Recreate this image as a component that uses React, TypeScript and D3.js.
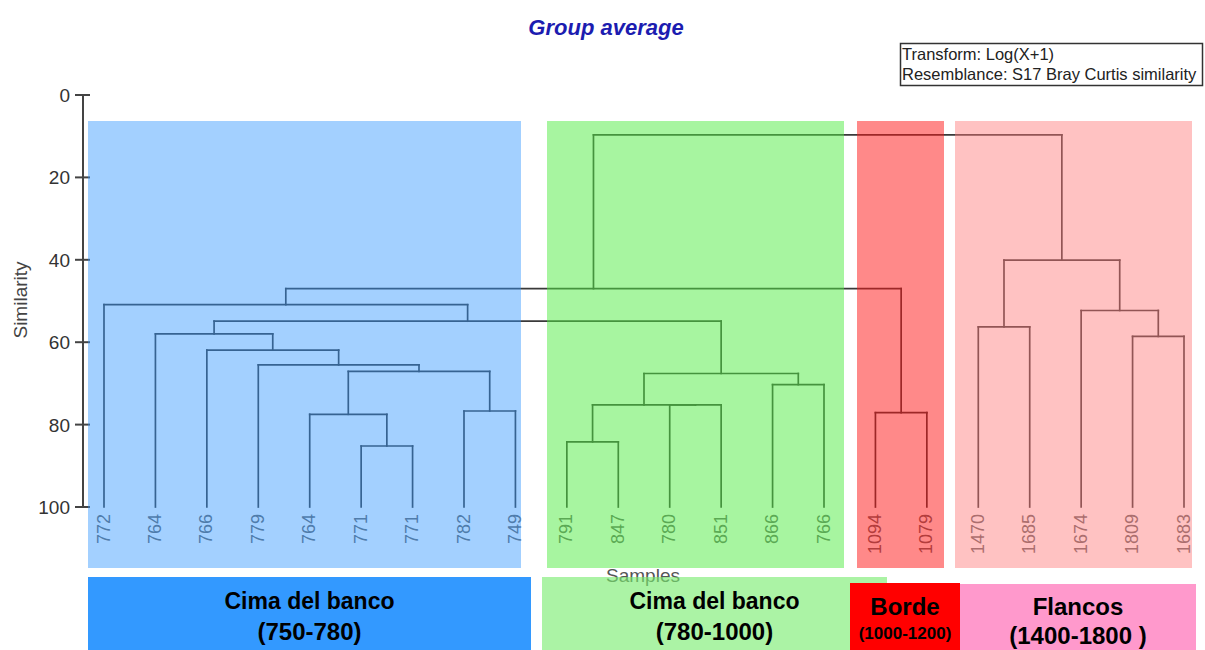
import React from "react";
import * as d3 from "d3";

// ---------- DATA ----------
const sampleLabels = [
  "772", "764", "766", "779", "764", "771", "771", "782", "749",
  "791", "847", "780", "851", "866", "766",
  "1094", "1079",
  "1470", "1685", "1674", "1809", "1683",
];
// linkage: node ids >= sampleLabels.length refer to earlier merges
const mergeA = [5, 4, 7, 23, 3, 2, 1, 9, 11, 29, 13, 31, 28, 0, 15, 35, 17, 20, 19, 38, 37];
const mergeB = [6, 22, 8, 24, 25, 26, 27, 10, 12, 30, 14, 32, 33, 34, 16, 36, 18, 21, 39, 40, 41];
const mergeSimilarity = [85.2, 77.5, 76.7, 67.1, 65.5, 61.9, 58.0, 84.2, 75.2, 75.2, 70.3, 67.6, 54.9, 50.9, 77.1, 47.0, 56.3, 58.6, 52.3, 40.1, 9.7];
const yTicks = [0, 20, 40, 60, 80, 100];

const groupTitles = ["Cima del banco", "Cima del banco", "Borde", "Flancos"];
const groupRanges = ["(750-780)", "(780-1000)", "(1000-1200)", "(1400-1800 )"];

// ---------- LAYOUT ----------
const W = 1205, H = 650;
const shadeBoxes = [
  { x0: 88, x1: 521, fill: "rgb(51,150,255)", op: 0.45 },
  { x0: 547, x1: 844, fill: "rgb(80,235,65)", op: 0.5 },
  { x0: 857, x1: 944, fill: "rgb(255,20,20)", op: 0.5 },
  { x0: 955, x1: 1192, fill: "rgb(255,120,120)", op: 0.45 },
];
const labelBoxes = [
  { x0: 88, x1: 531, y0: 577, fill: "#3399ff", op: 1, t1: 23, t2: 24, y1: 609, y2: 640 },
  { x0: 542, x1: 887, y0: 577, fill: "rgb(120,235,110)", op: 0.62, t1: 23, t2: 24, y1: 609, y2: 640 },
  { x0: 850, x1: 960, y0: 583, fill: "#ff0000", op: 1, t1: 24, t2: 17, y1: 615, y2: 639 },
  { x0: 960, x1: 1196, y0: 584, fill: "#ff99cc", op: 1, t1: 24, t2: 24, y1: 615, y2: 644 },
];

const FONT = "'Liberation Sans', Arial, sans-serif";

export default function App() {
  const n = sampleLabels.length;
  const x = d3.scaleLinear().domain([0, n - 1]).range([104, 1184]);
  const y = d3.scaleLinear().domain([0, 100]).range([95, 507]);

  // compute node positions
  const nodeX: number[] = sampleLabels.map((_, i) => x(i));
  const nodeS: number[] = sampleLabels.map(() => 100);
  const segs: { x1: number; y1: number; x2: number; y2: number }[] = [];
  mergeA.forEach((a, k) => {
    const b = mergeB[k];
    const s = mergeSimilarity[k];
    const id = n + k;
    nodeX[id] = (nodeX[a] + nodeX[b]) / 2;
    nodeS[id] = s;
    segs.push({ x1: nodeX[a], y1: y(nodeS[a]), x2: nodeX[a], y2: y(s) });
    segs.push({ x1: nodeX[b], y1: y(nodeS[b]), x2: nodeX[b], y2: y(s) });
    segs.push({ x1: nodeX[a], y1: y(s), x2: nodeX[b], y2: y(s) });
  });

  return (
    <svg width={W} height={H} style={{ position: "absolute", left: 0, top: 0, background: "#fff" }} fontFamily={FONT}>
      <rect x={0} y={0} width={W} height={H} fill="#fff" />
      {/* title */}
      <text x={606} y={35} textAnchor="middle" fontSize={22} fontStyle="italic" fontWeight="bold" fill="#1c1cb0">Group average</text>
      {/* info box */}
      <rect x={900.5} y={43.5} width={302} height={42} fill="#fff" stroke="#333" strokeWidth={1.5} />
      <text x={902} y={60} fontSize={16.5} fill="#222">Transform: Log(X+1)</text>
      <text x={902} y={80} fontSize={16.5} fill="#222">Resemblance: S17 Bray Curtis similarity</text>

      {/* y axis */}
      <line x1={83} x2={83} y1={y(0)} y2={y(100)} stroke="#444" strokeWidth={2} />
      {yTicks.map((t) => (
        <g key={t}>
          <line x1={75} x2={90} y1={y(t)} y2={y(t)} stroke="#444" strokeWidth={2} />
          <text x={70} y={y(t) + 7} textAnchor="end" fontSize={19} fill="#333">{t}</text>
        </g>
      ))}
      <text transform="translate(27,300) rotate(-90)" textAnchor="middle" fontSize={19} fill="#444">Similarity</text>

      {/* dendrogram */}
      {segs.map((s, i) => (
        <line key={i} x1={s.x1} y1={s.y1} x2={s.x2} y2={s.y2} stroke="#3a3a3a" strokeWidth={1.7} strokeLinecap="square" />
      ))}
      {sampleLabels.map((l, i) => (
        <text key={i} transform={`translate(${x(i) + 5.5},514) rotate(-90)`} textAnchor="end" fontSize={18} fill="#666">{l}</text>
      ))}

      {/* shaded groups */}
      {shadeBoxes.map((b, i) => (
        <rect key={i} x={b.x0} y={121} width={b.x1 - b.x0} height={447} fill={b.fill} fillOpacity={b.op} />
      ))}

      <text x={643} y={582} textAnchor="middle" fontSize={19} fill="#555">Samples</text>

      {/* group labels */}
      {labelBoxes.map((b, i) => (
        <g key={i}>
          <rect x={b.x0} y={b.y0} width={b.x1 - b.x0} height={H - b.y0} fill={b.fill} fillOpacity={b.op} />
          <text x={(b.x0 + b.x1) / 2} y={b.y1} textAnchor="middle" fontSize={b.t1} fontWeight="bold" fill="#000">{groupTitles[i]}</text>
          <text x={(b.x0 + b.x1) / 2} y={b.y2} textAnchor="middle" fontSize={b.t2} fontWeight="bold" fill="#000">{groupRanges[i]}</text>
        </g>
      ))}
    </svg>
  );
}
